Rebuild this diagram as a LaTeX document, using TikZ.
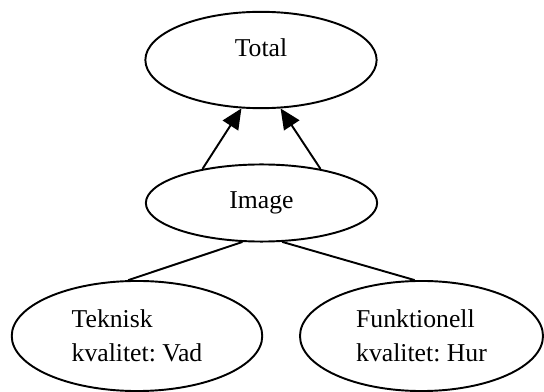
\documentclass[tikz,border=0pt]{standalone}
\usepackage{fontspec}
\setmainfont{Liberation Serif}
\usetikzlibrary{shapes.geometric,arrows.meta}
\frenchspacing

\begin{document}
\begin{tikzpicture}[x=0.467pt,y=0.467pt,
  font=\fontsize{12pt}{15.9pt}\selectfont,
  oval/.style={ellipse, draw=black, line width=0.9pt, inner sep=0pt},
  lift/.style={line width=0.9pt, -{Triangle[length=9.5pt,width=8.5pt]}},
  link/.style={line width=0.9pt}]
\useasboundingbox (0,0) rectangle (544,392);
% top and middle
\node [oval, minimum width=108pt, minimum height=45pt, text depth=11.4pt] (total) at (261,332) {Total};
\node [oval, minimum width=108pt, minimum height=36pt] (image) at (261.5,189) {Image};
% the two kinds of quality
\node [oval, minimum width=117pt, minimum height=51.4pt, align=left] (teknisk) at (137,56) {Teknisk\\kvalitet: Vad};
\node [oval, minimum width=113.5pt, minimum height=51.4pt, align=left] (funktionell) at (421.5,56) {Funktionell\\kvalitet: Hur};
% connectors
\draw [lift] (image.150) -- (total.-112);
\draw [lift] (image.30) -- (total.-68);
\draw [link] (image.-116) -- (teknisk.99);
\draw [link] (image.-62) -- (funktionell.97);
\end{tikzpicture}
\end{document}
